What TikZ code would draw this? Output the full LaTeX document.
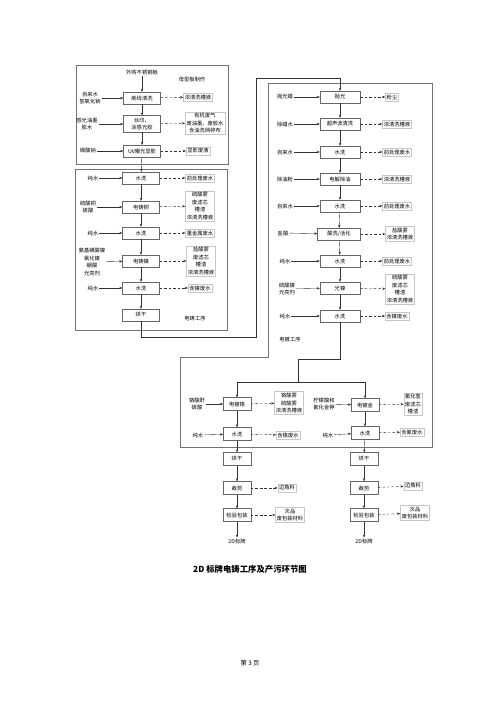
\documentclass[tikz,border=0pt]{standalone}
\usepackage{fontspec}
\setmainfont{Noto Sans CJK SC}
\usetikzlibrary{arrows.meta}

\tikzset{
 txt/.style={font=\fontsize{6.3}{9}\selectfont,align=center,inner sep=1pt},
 proc/.style={txt,draw=black!60,line width=0.4pt,fill=white,minimum width=15.5mm,minimum height=5mm},
 procr/.style={proc,minimum width=16.8mm},
 procs/.style={proc,minimum width=11.5mm,minimum height=5.4mm},
 outbox/.style={txt,draw=black!22,line width=0.4pt,inner sep=1.6pt},
 flow/.style={-{Stealth[length=1.3mm,width=1mm]},black!80,line width=0.45pt},
 waste/.style={flow,dash pattern=on 1.1mm off 0.8mm},
 frame/.style={draw=black!55,line width=0.6pt}
}

\begin{document}
\begin{tikzpicture}[x=0.42mm,y=-0.42mm]
 \useasboundingbox (0,0) rectangle (500,707);
 \draw[frame] (76,65) rectangle (228,164);
 \draw[frame] (75,169) rectangle (227,330);
 \draw[frame] (268,83) -- (432,83) -- (432,447) -- (180,447) -- (180,357) -- (268,357) -- cycle;

 \node[txt] (src) at (142,73) {外购不锈钢板};
 \node[txt] (lbm) at (192,80) {母型板制作};
 \node[proc] (m1) at (142,98) {刷线清洗};
 \node[proc,minimum height=7mm] (m2) at (142,124) {丝印、\\涂感光胶};
 \node[proc] (m3) at (142,151) {UV曝光显影};
 \node[txt] (im1) at (90,98) {自来水\\氢氧化钠};
 \node[txt] (im2) at (87,124) {感光油墨\\胶水};
 \node[txt] (im3) at (88,151) {碳酸钠};
 \node[outbox] (om1) at (198,97) {浓清洗槽液};
 \node[outbox] (om2) at (205,123) {有机废气\\废油墨、废胶水\\含油洗网碎布};
 \node[outbox] (om3) at (198,151) {显影废液};
 \draw[flow] (src) -- (m1);
 \draw[flow] (m1) -- (m2);
 \draw[flow] (m2) -- (m3);
 \draw[flow] (im1) -- (m1);
 \draw[flow] (im2) -- (m2);
 \draw[flow] (im3) -- (m3);
 \draw[waste] (m1) -- (om1);
 \draw[waste] (m2) -- (om2);
 \draw[waste] (m3) -- (om3);

 \node[proc] (d1) at (141,178) {水洗};
 \node[proc] (d2) at (141,207) {电铸铜};
 \node[proc] (d3) at (141,233) {水洗};
 \node[proc] (d4) at (141,261) {电铸镍};
 \node[proc] (d5) at (141,288) {水洗};
 \node[proc] (d6) at (141,315) {烘干};
 \node[txt] (lbd) at (195,318) {电铸工序};
 \node[txt] (id1) at (93,178) {纯水};
 \node[txt] (id2) at (88,207) {硫酸铜\\硫酸};
 \node[txt] (id3) at (93,233) {纯水};
 \node[txt] (id4) at (92,262) {氨基磺酸镍\\氯化镍\\硼酸\\光亮剂};
 \node[txt] (id5) at (93,288) {纯水};
 \node[outbox] (od1) at (200,178) {前处理废水};
 \node[outbox] (od2) at (200,206) {硫酸雾\\废滤芯\\槽渣\\浓清洗槽液};
 \node[outbox] (od3) at (200,233) {重金属废水};
 \node[outbox] (od4) at (201,261) {盐酸雾\\废滤芯\\槽渣\\浓清洗槽液};
 \node[outbox] (od5) at (200,288) {含镍废水};
 \draw[flow] (m3) -- (d1);
 \draw[flow] (d1) -- (d2);
 \draw[flow] (d2) -- (d3);
 \draw[flow] (d3) -- (d4);
 \draw[flow] (d4) -- (d5);
 \draw[flow] (d5) -- (d6);
 \foreach \i in {1,...,5} {
  \draw[flow] (id\i) -- (d\i);
  \draw[waste] (d\i) -- (od\i);
 }

 \coordinate (j1) at (256,337);
 \coordinate (j2) at (256,78);
 \node[procr] (r1) at (340,97) {抛光};
 \node[procr] (r2) at (340,124) {超声波清洗};
 \node[procr] (r3) at (340,152) {水洗};
 \node[procr] (r4) at (340,179) {电解除油};
 \node[procr] (r5) at (340,206) {水洗};
 \node[procr,minimum width=18mm] (r6) at (339,234) {酸洗/活化};
 \node[procr] (r7) at (340,261) {水洗};
 \node[procr] (r8) at (340,288) {光镍};
 \node[procr] (r9) at (340,316) {水洗};
 \node[txt] (lbr) at (290,339) {电镀工序};
 \node[txt] (ir1) at (285,97) {抛光蜡};
 \node[txt] (ir2) at (285,124) {除蜡水};
 \node[txt] (ir3) at (285,152) {自来水};
 \node[txt] (ir4) at (285,179) {除油粉};
 \node[txt] (ir5) at (285,206) {自来水};
 \node[txt] (ir6) at (283,233) {盐酸};
 \node[txt] (ir7) at (285,261) {纯水};
 \node[txt] (ir8) at (287,289) {硫酸镍\\光亮剂};
 \node[txt] (ir9) at (285,316) {纯水};
 \node[outbox] (or1) at (392,97) {粉尘};
 \node[outbox] (or2) at (397,124) {浓清洗槽液};
 \node[outbox] (or3) at (397,152) {前处理废水};
 \node[outbox] (or4) at (397,179) {浓清洗槽液};
 \node[outbox] (or5) at (397,206) {前处理废水};
 \node[outbox] (or6) at (400,234) {盐酸雾\\浓清洗槽液};
 \node[outbox] (or7) at (397,261) {前处理废水};
 \node[outbox] (or8) at (400,289) {硫酸雾\\废滤芯\\槽渣\\浓清洗槽液};
 \node[outbox] (or9) at (397,316) {含镍废水};
 \draw[flow] (d6.south) |- (j1) -- (j2) -| (r1.north);
 \draw[flow] (r1) -- (r2);
 \draw[flow] (r2) -- (r3);
 \draw[flow] (r3) -- (r4);
 \draw[flow] (r4) -- (r5);
 \draw[flow] (r5) -- (r6);
 \draw[flow] (r6) -- (r7);
 \draw[flow] (r7) -- (r8);
 \draw[flow] (r8) -- (r9);
 \foreach \i in {1,...,9} {
  \draw[flow] (ir\i) -- (r\i);
  \draw[waste] (r\i) -- (or\i);
 }

 \coordinate (s1) at (298,359);
 \coordinate (s2) at (298,382);
 \draw[line width=0.45pt,black!80] (r9.south) |- (s1) -- (s2);

 \node[procs] (b1) at (237,404) {电镀铬};
 \node[procs] (b2) at (237,434) {水洗};
 \node[procs] (b3) at (237,459) {烘干};
 \node[procs] (b4) at (237,488) {裁剪};
 \node[procs] (b5) at (237,515) {检验包装};
 \node[txt] (b6) at (237,541) {2D标牌};
 \node[txt] (ib1) at (197,404) {铬酸酐\\硫酸};
 \node[txt] (ib2) at (198,435) {纯水};
 \node[outbox] (ob1) at (289,403) {铬酸雾\\硫酸雾\\浓清洗槽液};
 \node[outbox] (ob2) at (288,435) {含铬废水};
 \node[outbox] (ob4) at (287,488) {边角料};
 \node[outbox] (ob5) at (290,515) {次品\\废包装材料};
 \draw[flow] (s2) -| (b1.north);
 \draw[flow] (b1) -- (b2);
 \draw[flow] (b2) -- (b3);
 \draw[flow] (b3) -- (b4);
 \draw[flow] (b4) -- (b5);
 \draw[flow] (b5) -- (b6);
 \draw[flow] (ib1) -- (b1);
 \draw[flow] (ib2) -- (b2);
 \draw[waste] (b1) -- (ob1);
 \draw[waste] (b2) -- (ob2);
 \draw[waste] (b4) -- (ob4);
 \draw[waste] (b5) -- (ob5);

 \node[procs] (g1) at (365,405) {电镀金};
 \node[procs] (g2) at (365,433) {水洗};
 \node[procs] (g3) at (364,459) {烘干};
 \node[procs] (g4) at (364,488) {裁剪};
 \node[procs] (g5) at (364,515) {检验包装};
 \node[txt] (g6) at (364,541) {2D标牌};
 \node[txt] (ig1) at (324,404) {柠檬酸和\\氰化金钾};
 \node[txt] (ig2) at (328,435) {纯水};
 \node[outbox] (og1) at (413,404) {氰化氢\\废滤芯\\槽渣};
 \node[outbox] (og2) at (412,432) {含氰废水};
 \node[outbox] (og4) at (413,486) {边角料};
 \node[outbox] (og5) at (415,513) {次品\\废包装材料};
 \draw[flow] (s2) -| (g1.north);
 \draw[flow] (g1) -- (g2);
 \draw[flow] (g2) -- (g3);
 \draw[flow] (g3) -- (g4);
 \draw[flow] (g4) -- (g5);
 \draw[flow] (g5) -- (g6);
 \draw[flow] (ig1) -- (g1);
 \draw[flow] (ig2) -- (g2);
 \draw[waste] (g1) -- (og1);
 \draw[waste] (g2) -- (og2);
 \draw[waste] (g4) -- (og4);
 \draw[waste] (g5) -- (og5);

 \node[font=\fontsize{10}{12}\selectfont\bfseries] (ttl) at (250,569) {2D 标牌电铸工序及产污环节图};
 \node[font=\fontsize{7.5}{9}\selectfont] (pg) at (250,663) {第 3 页};
\end{tikzpicture}
\end{document}
